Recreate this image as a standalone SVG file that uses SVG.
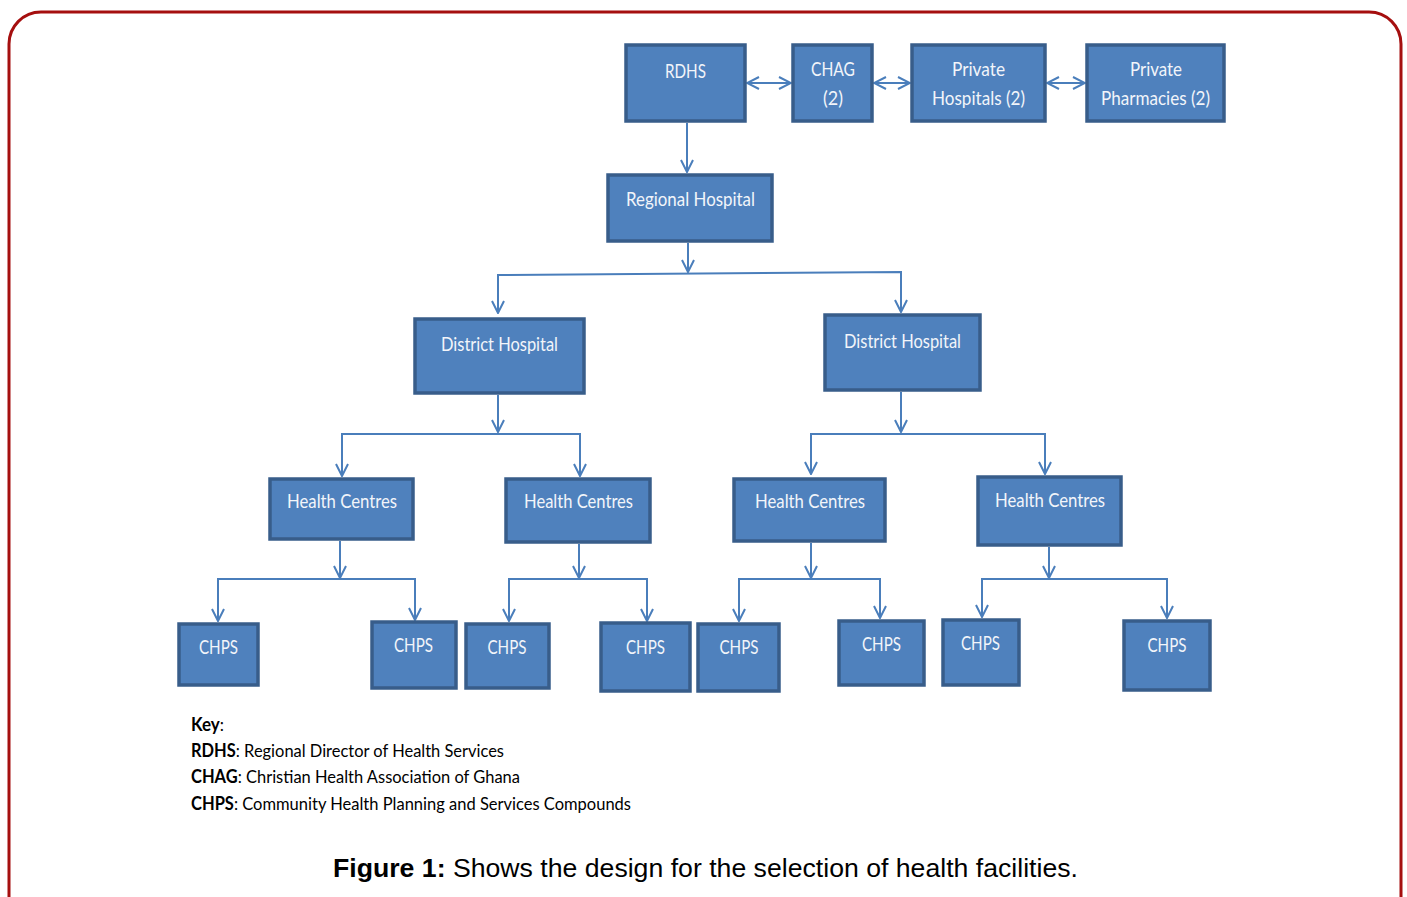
<svg xmlns="http://www.w3.org/2000/svg" width="1407" height="897" viewBox="0 0 1407 897">
<style>
.box{fill:#4f81bd;stroke:#385d8a;stroke-width:3.5}
.lbl{font-family:Lato,"Open Sans",sans-serif;font-size:19px;fill:#f2f5fa;text-anchor:middle}
.key{font-family:Lato,"Open Sans",sans-serif;font-size:18px;fill:#000}
.con{fill:none;stroke:#4a7ebb;stroke-width:2}
</style>
<defs>
<marker id="ah" viewBox="0 0 14 14" refX="13" refY="7" markerWidth="14" markerHeight="14" markerUnits="userSpaceOnUse" orient="auto-start-reverse">
<path d="M1,1 L13,7 L1,13" fill="none" stroke="#4a7ebb" stroke-width="2"/>
</marker>
</defs>
<rect x="9" y="12" width="1392" height="920" rx="32" fill="#fff" stroke="#a50f0f" stroke-width="3"/>

<g id="connectors">
<path class="con" d="M747,83 H791" marker-start="url(#ah)" marker-end="url(#ah)"/>
<path class="con" d="M874,83 H910" marker-start="url(#ah)" marker-end="url(#ah)"/>
<path class="con" d="M1047,83 H1085" marker-start="url(#ah)" marker-end="url(#ah)"/>
<path class="con" d="M687,123 V172" marker-end="url(#ah)"/>
<path class="con" d="M688,243 V272" marker-end="url(#ah)"/>
<path class="con" d="M498,313 V275 L901,272 V312" marker-end="url(#ah)"/>
<path class="con" d="M498,275 V313" marker-end="url(#ah)"/>
<path class="con" d="M498,395 V432" marker-end="url(#ah)"/>
<path class="con" d="M342,476 V434 H580 V476" marker-end="url(#ah)"/>
<path class="con" d="M342,434 V476" marker-end="url(#ah)"/>
<path class="con" d="M901,392 V432" marker-end="url(#ah)"/>
<path class="con" d="M811,474 V434 H1045 V474" marker-end="url(#ah)"/>
<path class="con" d="M811,434 V474" marker-end="url(#ah)"/>
<path class="con" d="M340,541 V578" marker-end="url(#ah)"/>
<path class="con" d="M218,621 V579 H415 V620" marker-end="url(#ah)"/>
<path class="con" d="M218,579 V621" marker-end="url(#ah)"/>
<path class="con" d="M579,544 V578" marker-end="url(#ah)"/>
<path class="con" d="M509,621 V579 H647 V621" marker-end="url(#ah)"/>
<path class="con" d="M509,579 V621" marker-end="url(#ah)"/>
<path class="con" d="M811,543 V578" marker-end="url(#ah)"/>
<path class="con" d="M739,621 V579 H880 V618" marker-end="url(#ah)"/>
<path class="con" d="M739,579 V621" marker-end="url(#ah)"/>
<path class="con" d="M1049,547 V578" marker-end="url(#ah)"/>
<path class="con" d="M982,617 V579 H1167 V618" marker-end="url(#ah)"/>
<path class="con" d="M982,579 V617" marker-end="url(#ah)"/>
</g>

<g id="rdhs"><rect class="box" x="626" y="45" width="119" height="76"/><text class="lbl" x="685.5" y="78" textLength="41" lengthAdjust="spacingAndGlyphs">RDHS</text></g>
<g id="chag"><rect class="box" x="793" y="45" width="79" height="76"/><text class="lbl" x="833" y="76" textLength="44" lengthAdjust="spacingAndGlyphs">CHAG</text><text class="lbl" x="833" y="105" textLength="20" lengthAdjust="spacingAndGlyphs">(2)</text></g>
<g id="private-hospitals"><rect class="box" x="912" y="45" width="133" height="76"/><text class="lbl" x="978.5" y="76" textLength="53" lengthAdjust="spacingAndGlyphs">Private</text><text class="lbl" x="978.5" y="105" textLength="93" lengthAdjust="spacingAndGlyphs">Hospitals (2)</text></g>
<g id="private-pharmacies"><rect class="box" x="1087" y="45" width="137" height="76"/><text class="lbl" x="1156" y="76" textLength="52" lengthAdjust="spacingAndGlyphs">Private</text><text class="lbl" x="1155.5" y="105" textLength="109" lengthAdjust="spacingAndGlyphs">Pharmacies (2)</text></g>
<g id="regional-hospital"><rect class="box" x="608" y="175" width="164" height="66"/><text class="lbl" x="690.5" y="206" textLength="129" lengthAdjust="spacingAndGlyphs">Regional Hospital</text></g>
<g id="district-hospital-1"><rect class="box" x="415" y="319" width="169" height="74"/><text class="lbl" x="499.5" y="351" textLength="117" lengthAdjust="spacingAndGlyphs">District Hospital</text></g>
<g id="district-hospital-2"><rect class="box" x="825" y="315" width="155" height="75"/><text class="lbl" x="902.5" y="348" textLength="117" lengthAdjust="spacingAndGlyphs">District Hospital</text></g>
<g id="health-centres-1"><rect class="box" x="270" y="479" width="143" height="60"/><text class="lbl" x="342" y="508" textLength="110" lengthAdjust="spacingAndGlyphs">Health Centres</text></g>
<g id="health-centres-2"><rect class="box" x="506" y="479" width="144" height="63"/><text class="lbl" x="578.5" y="508" textLength="109" lengthAdjust="spacingAndGlyphs">Health Centres</text></g>
<g id="health-centres-3"><rect class="box" x="734" y="479" width="151" height="62"/><text class="lbl" x="810" y="508" textLength="110" lengthAdjust="spacingAndGlyphs">Health Centres</text></g>
<g id="health-centres-4"><rect class="box" x="978" y="477" width="143" height="68"/><text class="lbl" x="1050" y="507" textLength="110" lengthAdjust="spacingAndGlyphs">Health Centres</text></g>
<g id="chps-1"><rect class="box" x="179" y="624" width="79" height="61"/><text class="lbl" x="218.5" y="654" textLength="39" lengthAdjust="spacingAndGlyphs">CHPS</text></g>
<g id="chps-2"><rect class="box" x="372" y="622" width="84" height="66"/><text class="lbl" x="413.5" y="652" textLength="39" lengthAdjust="spacingAndGlyphs">CHPS</text></g>
<g id="chps-3"><rect class="box" x="466" y="624" width="83" height="64"/><text class="lbl" x="507" y="654" textLength="39" lengthAdjust="spacingAndGlyphs">CHPS</text></g>
<g id="chps-4"><rect class="box" x="601" y="623" width="89" height="68"/><text class="lbl" x="645.5" y="654" textLength="39" lengthAdjust="spacingAndGlyphs">CHPS</text></g>
<g id="chps-5"><rect class="box" x="698" y="624" width="81" height="67"/><text class="lbl" x="739" y="654" textLength="39" lengthAdjust="spacingAndGlyphs">CHPS</text></g>
<g id="chps-6"><rect class="box" x="839" y="621" width="85" height="64"/><text class="lbl" x="881.5" y="651" textLength="39" lengthAdjust="spacingAndGlyphs">CHPS</text></g>
<g id="chps-7"><rect class="box" x="943" y="620" width="76" height="65"/><text class="lbl" x="980.5" y="650" textLength="39" lengthAdjust="spacingAndGlyphs">CHPS</text></g>
<g id="chps-8"><rect class="box" x="1124" y="621" width="86" height="69"/><text class="lbl" x="1167" y="652" textLength="39" lengthAdjust="spacingAndGlyphs">CHPS</text></g>

<g id="key">
<text class="key" x="191" y="731" textLength="33" lengthAdjust="spacingAndGlyphs"><tspan font-weight="bold">Key</tspan>:</text>
<text class="key" x="191" y="757" textLength="313" lengthAdjust="spacingAndGlyphs"><tspan font-weight="bold">RDHS</tspan>: Regional Director of Health Services</text>
<text class="key" x="191" y="783" textLength="329" lengthAdjust="spacingAndGlyphs"><tspan font-weight="bold">CHAG</tspan>: Christian Health Association of Ghana</text>
<text class="key" x="191" y="810" textLength="440" lengthAdjust="spacingAndGlyphs"><tspan font-weight="bold">CHPS</tspan>: Community Health Planning and Services Compounds</text>
</g>
<text x="333" y="877" font-family="'Liberation Sans',Arial,sans-serif" font-size="25" fill="#000" textLength="745" lengthAdjust="spacingAndGlyphs"><tspan font-weight="bold">Figure 1:</tspan> Shows the design for the selection of health facilities.</text>
</svg>
